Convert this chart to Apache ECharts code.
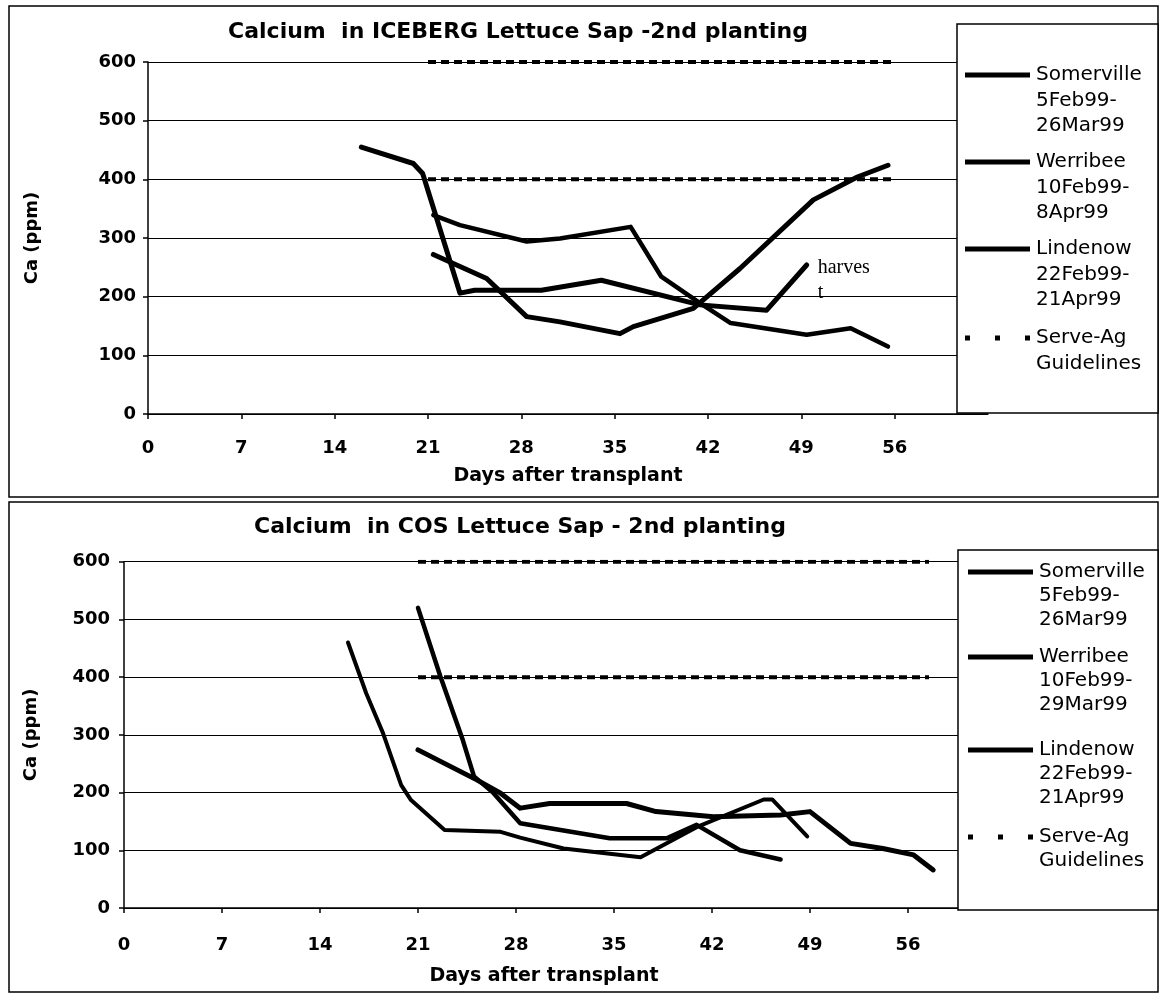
<!DOCTYPE html>
<html>
<head>
<meta charset="utf-8">
<title>Calcium in Lettuce Sap - 2nd planting</title>
<script src="https://cdn.jsdelivr.net/npm/echarts/dist/echarts.min.js"></script>
<style>
  html, body { margin: 0; padding: 0; background: #fff; }
  #chart { width: 1161px; height: 995px; }
</style>
</head>
<body>
<div id="chart"></div>
<script>
// ---- Tick values ----
const dayTicks = [0, 7, 14, 21, 28, 35, 42, 49, 56];

// ---- Series names (legend text) ----
const SOMERVILLE = 'Somerville\n5Feb99-\n26Mar99';
const WERRIBEE_ICE = 'Werribee\n10Feb99-\n8Apr99';
const WERRIBEE_COS = 'Werribee\n10Feb99-\n29Mar99';
const LINDENOW = 'Lindenow\n22Feb99-\n21Apr99';
const GUIDE = 'Serve-Ag\nGuidelines';

// ---- ICEBERG lettuce: [day after transplant, Ca ppm] ----
const iceSomerville = [[16, 455], [19.9, 427], [20.6, 410], [23.4, 206], [24.5, 211], [29.5, 211], [34, 228], [41.4, 186], [46.4, 177], [49.4, 254]];
const iceWerribee = [[21.4, 339], [23.4, 322], [28.4, 294], [30.9, 299], [36.2, 319], [38.5, 234], [41.4, 189], [43.7, 155], [49.4, 135], [52.7, 146], [55.5, 115]];
const iceLindenow = [[21.4, 272], [25.4, 231], [28.4, 166], [30.9, 157], [35.4, 137], [36.4, 149], [40.9, 180], [44.4, 248], [49.9, 365], [53.2, 404], [55.5, 424]];
const iceGuideHigh = [[21, 600], [56, 600]];
const iceGuideLow = [[21, 400], [56, 400]];

// ---- COS lettuce: [day after transplant, Ca ppm] ----
const cosSomerville = [[16, 460], [17.3, 372], [18.5, 303], [19.8, 213], [20.5, 187], [22.9, 135], [26.9, 132], [28.3, 122], [31.4, 103], [36.9, 88], [40.9, 140], [45.7, 188], [46.3, 188], [48.8, 124]];
const cosWerribee = [[21, 520], [22.6, 401], [24.2, 291], [25, 228], [26.4, 199], [28.3, 147], [34.7, 121], [38.8, 121], [40.9, 144], [44, 100], [46.9, 84]];
const cosLindenow = [[21, 274], [25.2, 222], [26.9, 199], [28.3, 173], [30.4, 181], [35.9, 181], [38, 167], [42.1, 158], [46.9, 161], [49, 167], [51.9, 112], [54.2, 103], [56.4, 92], [57.8, 66]];
const cosGuideHigh = [[21, 600], [57.5, 600]];
const cosGuideLow = [[21, 400], [57.5, 400]];

const FONT = 'DejaVu Sans';

function line(name, data, idx, width, extra) {
  return Object.assign({
    name: name,
    type: 'line',
    xAxisIndex: idx,
    yAxisIndex: idx,
    data: data,
    symbol: 'none',
    smooth: false,
    color: '#000',
    itemStyle: { color: '#000' },
    lineStyle: { color: '#000', width: width, cap: 'round', join: 'round' },
    z: 3
  }, extra || {});
}

function guide(data, idx) {
  return line(GUIDE, data, idx, 4, {
    lineStyle: { color: '#000', width: 4, type: [8, 5], cap: 'butt' },
    z: 2
  });
}

function xAxis(idx, max, margin, gap) {
  return {
    type: 'value', gridIndex: idx, min: 0, max: max, interval: 7,
    name: 'Days after transplant', nameLocation: 'middle', nameGap: gap,
    nameTextStyle: { fontFamily: FONT, fontWeight: 'bold', fontSize: 19, color: '#000' },
    axisLine: { show: true, onZero: false, lineStyle: { color: '#000', width: 1.5 } },
    axisTick: { show: true, length: 5, customValues: dayTicks, lineStyle: { color: '#000', width: 1.5 } },
    axisLabel: { customValues: dayTicks, margin: margin, fontFamily: FONT, fontWeight: 'bold', fontSize: 18, color: '#000' },
    splitLine: { show: false }
  };
}

function yAxis(idx, margin, gap) {
  return {
    type: 'value', gridIndex: idx, min: 0, max: 600, interval: 100,
    name: 'Ca (ppm)', nameLocation: 'middle', nameGap: gap,
    nameTextStyle: { fontFamily: FONT, fontWeight: 'bold', fontSize: 18, color: '#000' },
    axisLine: { show: true, lineStyle: { color: '#000', width: 1.5 } },
    axisTick: { show: true, length: 5, lineStyle: { color: '#000', width: 1.5 } },
    axisLabel: { margin: margin, fontFamily: FONT, fontWeight: 'bold', fontSize: 18, color: '#000' },
    splitLine: { show: true, lineStyle: { color: '#000', width: 1 } }
  };
}

// Boxed legend: a line sample beside each multi-line series name,
// the sample level with the first line of its text.
function legendBox(box, iconX, rowTops, lineHeight, names) {
  const items = [{
    type: 'rect', shape: box,
    style: { fill: '#fff', stroke: '#000', lineWidth: 1.5 }, z: 50
  }];
  names.forEach(function (n, i) {
    const y = rowTops[i];
    const dashed = n === GUIDE;
    items.push({
      type: 'line', z: 51,
      shape: { x1: iconX, y1: y, x2: iconX + 65, y2: y },
      style: { stroke: '#000', lineWidth: 5, lineDash: dashed ? [5, 25] : null }
    });
    items.push({
      type: 'text', z: 51,
      style: {
        text: n, x: iconX + 71, y: y - lineHeight / 2,
        font: '20px "DejaVu Sans"', lineHeight: lineHeight,
        fill: '#000', verticalAlign: 'top', align: 'left'
      }
    });
  });
  return items;
}

const chart = echarts.init(document.getElementById('chart'), null, { renderer: 'canvas' });

chart.setOption({
  animation: false,
  backgroundColor: '#fff',
  title: [
    { text: 'Calcium  in ICEBERG Lettuce Sap -2nd planting', left: 518, top: 21, textAlign: 'center', padding: 0,
      textStyle: { fontFamily: FONT, fontWeight: 'bold', fontSize: 22, color: '#000' } },
    { text: 'Calcium  in COS Lettuce Sap - 2nd planting', left: 520, top: 516, textAlign: 'center', padding: 0,
      textStyle: { fontFamily: FONT, fontWeight: 'bold', fontSize: 22, color: '#000' } }
  ],
  grid: [
    { left: 148, top: 62, width: 840, height: 352 },
    { left: 124, top: 561.7, width: 840, height: 346.3 }
  ],
  xAxis: [xAxis(0, 63, 25, 53), xAxis(1, 60, 28, 59)],
  yAxis: [yAxis(0, 12, 107), yAxis(1, 14, 84)],
  graphic: [
    { type: 'rect', shape: { x: 9, y: 6, width: 1149, height: 491 }, style: { fill: 'none', stroke: '#000', lineWidth: 1.5 }, z: 0 },
    { type: 'rect', shape: { x: 9, y: 502, width: 1149, height: 490 }, style: { fill: 'none', stroke: '#000', lineWidth: 1.5 }, z: 0 }
  ].concat(
    legendBox({ x: 957, y: 24, width: 201, height: 389 }, 965, [75, 162, 249, 338], 25.5,
      [SOMERVILLE, WERRIBEE_ICE, LINDENOW, GUIDE]),
    legendBox({ x: 958, y: 550, width: 200, height: 360 }, 968, [572, 657, 750, 837], 24,
      [SOMERVILLE, WERRIBEE_COS, LINDENOW, GUIDE])
  ),
  series: [
    line(SOMERVILLE, iceSomerville, 0, 5, {
      endLabel: { show: true, formatter: 'harves\nt', distance: 11, offset: [0, 15],
        fontFamily: 'Liberation Serif', fontSize: 20, lineHeight: 25, color: '#000' }
    }),
    line(WERRIBEE_ICE, iceWerribee, 0, 4.5),
    line(LINDENOW, iceLindenow, 0, 5),
    guide(iceGuideHigh, 0),
    guide(iceGuideLow, 0),
    line(SOMERVILLE, cosSomerville, 1, 4),
    line(WERRIBEE_COS, cosWerribee, 1, 4.5),
    line(LINDENOW, cosLindenow, 1, 5),
    guide(cosGuideHigh, 1),
    guide(cosGuideLow, 1)
  ]
});
</script>
</body>
</html>
